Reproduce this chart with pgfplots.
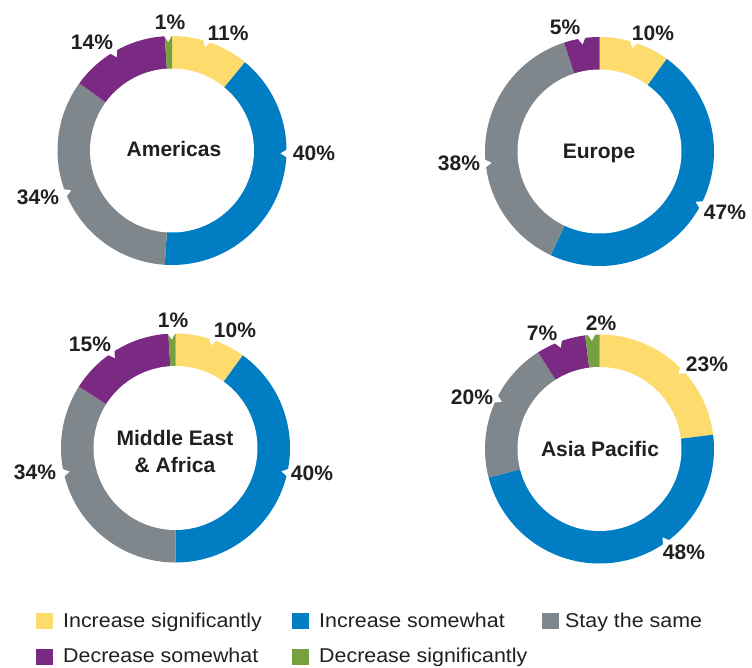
\documentclass[border=0pt]{standalone}
\usepackage{pgfplots}
\pgfplotsset{compat=1.18}
\usepackage{fontspec}
\setmainfont{Liberation Sans}
\newfontfamily\legfont[FakeStretch=1.07]{Liberation Sans}
\definecolor{cYel}{HTML}{FDDB6D}
\definecolor{cBlu}{HTML}{007DC3}
\definecolor{cGry}{HTML}{7F868C}
\definecolor{cPur}{HTML}{7B2A83}
\definecolor{cGrn}{HTML}{77A041}
\definecolor{txt}{HTML}{231F20}
\tikzset{
  lab/.style={font=\fontsize{21}{25}\selectfont\bfseries, text=txt, inner sep=0pt},
  leg/.style={font=\legfont\fontsize{20}{24}\selectfont, text=txt, inner sep=0pt, anchor=base west},
}
\def\Ro{114.5}
\def\Ri{82}
% one wedge: cx cy start(%) value(%) colour
\newcommand\wedgeplot[5]{%
  \ifdim #4pt>0pt
  \pgfmathsetmacro\wa{3.6*(#3)}%
  \pgfmathsetmacro\wb{3.6*(#3+#4)}%
  \edef\tmp{\noexpand\addplot[fill=#5,draw=none,domain=\wa:\wb,samples=90,variable=\noexpand\t] ({#1+\Ro*sin(\noexpand\t)},{#2-\Ro*cos(\noexpand\t)}) -- (axis cs:#1,#2) -- cycle;}%
  \tmp
  \fi}
% donut: cx cy v1 v2 v3 v4 v5
\newcommand\donut[7]{%
  \wedgeplot{#1}{#2}{0}{#3}{cYel}%
  \pgfmathsetmacro\sB{#3}%
  \wedgeplot{#1}{#2}{\sB}{#4}{cBlu}%
  \pgfmathsetmacro\sC{#3+#4}%
  \wedgeplot{#1}{#2}{\sC}{#5}{cGry}%
  \pgfmathsetmacro\sD{#3+#4+#5}%
  \wedgeplot{#1}{#2}{\sD}{#6}{cPur}%
  \pgfmathsetmacro\sE{#3+#4+#5+#6}%
  \wedgeplot{#1}{#2}{\sE}{#7}{cGrn}%
  \edef\tmp{\noexpand\addplot[fill=white,draw=none,domain=0:360,samples=120,variable=\noexpand\t] ({#1+\Ri*sin(\noexpand\t)},{#2-\Ri*cos(\noexpand\t)}) -- cycle;}%
  \tmp}
% notch: cx cy angle
\newcommand\notch[3]{%
  \pgfmathsetmacro\nTx{#1+(\Ro-6)*sin(#3)}%
  \pgfmathsetmacro\nTy{#2-(\Ro-6)*cos(#3)}%
  \pgfmathsetmacro\nBx{#1+(\Ro+3)*sin(#3)}%
  \pgfmathsetmacro\nBy{#2-(\Ro+3)*cos(#3)}%
  \pgfmathsetmacro\nAx{\nBx+5.5*cos(#3)}%
  \pgfmathsetmacro\nAy{\nBy+5.5*sin(#3)}%
  \pgfmathsetmacro\nCx{\nBx-5.5*cos(#3)}%
  \pgfmathsetmacro\nCy{\nBy-5.5*sin(#3)}%
  \edef\tmp{\noexpand\addplot[fill=white,draw=none] coordinates {(\nAx,\nAy) (\nTx,\nTy) (\nCx,\nCy)} -- cycle;}%
  \tmp}
\begin{document}
\begin{tikzpicture}
\begin{axis}[
  width=752pt, height=667pt, scale only axis,
  xmin=0, xmax=752, ymin=0, ymax=667, y dir=reverse,
  hide axis, clip=false,
]
\path (axis cs:0,0) rectangle (axis cs:752,667);
% Americas
\donut{172}{150.5}{11}{40}{34}{14}{1}
\notch{172}{150.5}{358}\notch{172}{150.5}{17.7}\notch{172}{150.5}{91.5}\notch{172}{150.5}{248.4}\notch{172}{150.5}{329.4}
% Europe
\donut{599.5}{151.5}{10}{47}{38}{5}{0}
\notch{599.5}{151.5}{351}\notch{599.5}{151.5}{17.5}\notch{599.5}{151.5}{117.6}\notch{599.5}{151.5}{264}
% Middle East & Africa
\donut{175.5}{448}{10}{40}{34}{15}{1}
\notch{175.5}{448}{358}\notch{175.5}{448}{19}\notch{175.5}{448}{102.4}\notch{175.5}{448}{257.5}\notch{175.5}{448}{326}
% Asia Pacific
\donut{599.5}{449}{23}{48}{20}{7}{2}
\notch{599.5}{449}{356}\notch{599.5}{449}{339}\notch{599.5}{449}{46.6}\notch{599.5}{449}{144.5}\notch{599.5}{449}{295.8}

% labels
\node[lab] at (axis cs:174,149) {Americas};
\node[lab] at (axis cs:170,22) {1\%};
\node[lab] at (axis cs:228,33) {11\%};
\node[lab] at (axis cs:314,153) {40\%};
\node[lab] at (axis cs:38,197) {34\%};
\node[lab] at (axis cs:92,42) {14\%};

\node[lab] at (axis cs:599,153) {Europe};
\node[lab] at (axis cs:565,27) {5\%};
\node[lab] at (axis cs:653,33) {10\%};
\node[lab] at (axis cs:725,212) {47\%};
\node[lab] at (axis cs:459,163) {38\%};

\node[lab, align=center, font=\fontsize{21}{27}\selectfont\bfseries] at (axis cs:175,451) {Middle East\\\& Africa};
\node[lab] at (axis cs:173,320) {1\%};
\node[lab] at (axis cs:235,330) {10\%};
\node[lab] at (axis cs:312,473) {40\%};
\node[lab] at (axis cs:35,472) {34\%};
\node[lab] at (axis cs:90,344) {15\%};

\node[lab] at (axis cs:600,449) {Asia Pacific};
\node[lab] at (axis cs:601,323) {2\%};
\node[lab] at (axis cs:542,333) {7\%};
\node[lab] at (axis cs:707,364) {23\%};
\node[lab] at (axis cs:684,552) {48\%};
\node[lab] at (axis cs:472,397) {20\%};

% legend
\fill[cYel] (axis cs:36,612.5) rectangle (axis cs:53,629);
\node[leg] at (axis cs:63,627.5) {Increase significantly};
\fill[cBlu] (axis cs:292,612.5) rectangle (axis cs:309,629);
\node[leg] at (axis cs:319,627.5) {Increase somewhat};
\fill[cGry] (axis cs:542,612.5) rectangle (axis cs:559,629);
\node[leg] at (axis cs:565,627.5) {Stay the same};
\fill[cPur] (axis cs:36,648.5) rectangle (axis cs:53,665);
\node[leg] at (axis cs:63,662.5) {Decrease somewhat};
\fill[cGrn] (axis cs:292,648.5) rectangle (axis cs:309,665);
\node[leg] at (axis cs:319,662.5) {Decrease significantly};
\end{axis}
\end{tikzpicture}
\end{document}
